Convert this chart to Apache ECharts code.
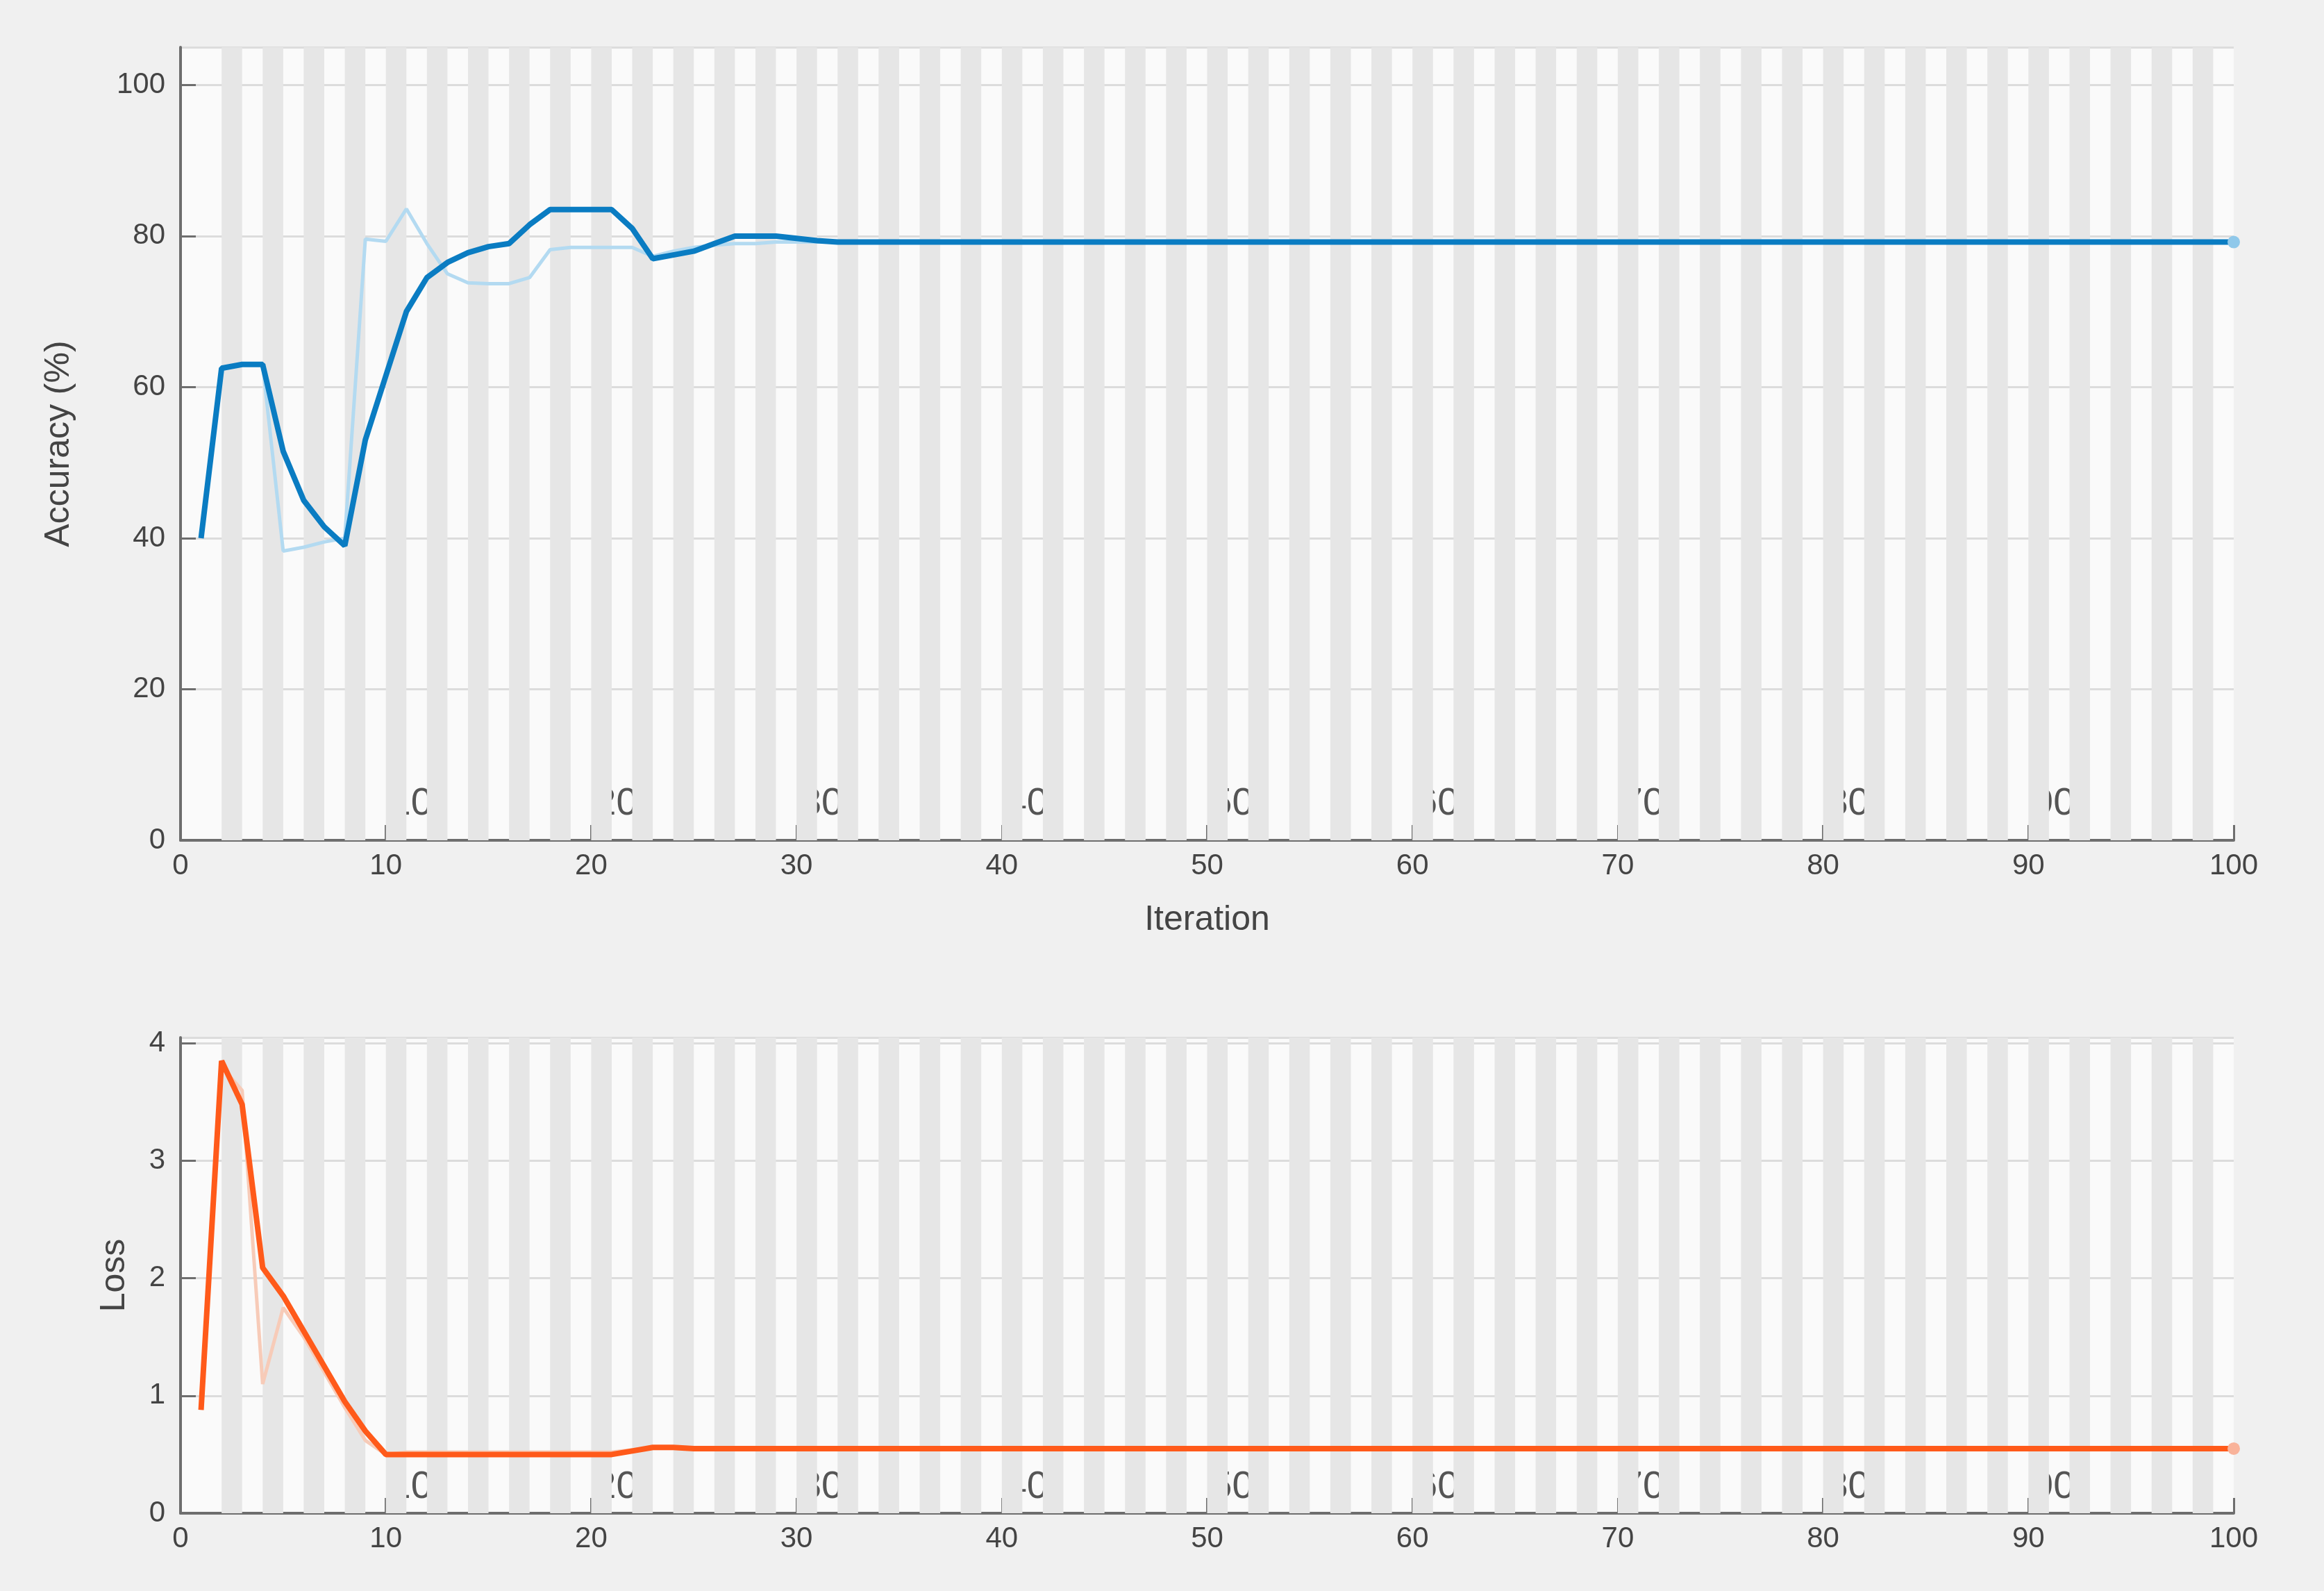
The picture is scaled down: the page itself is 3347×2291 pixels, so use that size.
<!DOCTYPE html>
<html><head><meta charset="utf-8">
<script src="https://cdn.jsdelivr.net/npm/echarts@6/dist/echarts.min.js"></script>
<style>html,body{margin:0;padding:0;background:#f0f0f0}#c{width:3347px;height:2291px}</style>
</head><body><div id="c"></div>
<script>
const iterations = Array.from({length:100},(_,i)=>i+1);
const accSmoothed = [40,62.5,63,63,51.5,45,41.5,39,53,61.5,70,74.5,76.5,77.8,78.6,79,81.5,83.5,83.5,83.5,
83.5,81,77,77.5,78,79,80,80,80,79.7,79.4,79.2,79.2,79.2,79.2,79.2,79.2,79.2,79.2,79.2,
79.2,79.2,79.2,79.2,79.2,79.2,79.2,79.2,79.2,79.2,79.2,79.2,79.2,79.2,79.2,79.2,79.2,79.2,79.2,79.2,
79.2,79.2,79.2,79.2,79.2,79.2,79.2,79.2,79.2,79.2,79.2,79.2,79.2,79.2,79.2,79.2,79.2,79.2,79.2,79.2,
79.2,79.2,79.2,79.2,79.2,79.2,79.2,79.2,79.2,79.2,79.2,79.2,79.2,79.2,79.2,79.2,79.2,79.2,79.2,79.2];
const accRaw = [40,62.5,63,63,38.3,38.8,39.5,40,79.6,79.3,83.6,79,75,73.8,73.7,73.7,74.5,78.2,78.5,78.5,
78.5,78.5,77.3,78,78.5,78.8,79,79,79.2,79.2,79.2,79.2,79.2,79.2,79.2,79.2,79.2,79.2,79.2,79.2,
79.2,79.2,79.2,79.2,79.2,79.2,79.2,79.2,79.2,79.2,79.2,79.2,79.2,79.2,79.2,79.2,79.2,79.2,79.2,79.2,
79.2,79.2,79.2,79.2,79.2,79.2,79.2,79.2,79.2,79.2,79.2,79.2,79.2,79.2,79.2,79.2,79.2,79.2,79.2,79.2,
79.2,79.2,79.2,79.2,79.2,79.2,79.2,79.2,79.2,79.2,79.2,79.2,79.2,79.2,79.2,79.2,79.2,79.2,79.2,79.2];
const lossSmoothed = [0.88,3.85,3.48,2.09,1.85,1.55,1.25,0.95,0.7,0.5,0.5,0.5,0.5,0.5,0.5,0.5,0.5,0.5,0.5,0.5,
0.5,0.53,0.56,0.56,0.55,0.55,0.55,0.55,0.55,0.55,0.55,0.55,0.55,0.55,0.55,0.55,0.55,0.55,0.55,0.55,
0.55,0.55,0.55,0.55,0.55,0.55,0.55,0.55,0.55,0.55,0.55,0.55,0.55,0.55,0.55,0.55,0.55,0.55,0.55,0.55,
0.55,0.55,0.55,0.55,0.55,0.55,0.55,0.55,0.55,0.55,0.55,0.55,0.55,0.55,0.55,0.55,0.55,0.55,0.55,0.55,
0.55,0.55,0.55,0.55,0.55,0.55,0.55,0.55,0.55,0.55,0.55,0.55,0.55,0.55,0.55,0.55,0.55,0.55,0.55,0.55];
const lossRaw = [0.88,3.8,3.6,1.1,1.75,1.5,1.2,0.9,0.62,0.5,0.52,0.52,0.52,0.52,0.52,0.52,0.52,0.52,0.52,0.52,
0.52,0.54,0.56,0.56,0.55,0.55,0.55,0.55,0.55,0.55,0.55,0.55,0.55,0.55,0.55,0.55,0.55,0.55,0.55,0.55,
0.55,0.55,0.55,0.55,0.55,0.55,0.55,0.55,0.55,0.55,0.55,0.55,0.55,0.55,0.55,0.55,0.55,0.55,0.55,0.55,
0.55,0.55,0.55,0.55,0.55,0.55,0.55,0.55,0.55,0.55,0.55,0.55,0.55,0.55,0.55,0.55,0.55,0.55,0.55,0.55,
0.55,0.55,0.55,0.55,0.55,0.55,0.55,0.55,0.55,0.55,0.55,0.55,0.55,0.55,0.55,0.55,0.55,0.55,0.55,0.55];
const innerTickLabels = [10,20,30,40,50,60,70,80,90];

const pair = (xs, ys) => xs.map((x,i)=>[x, ys[i]]);
const stripes = [];
for (let k = 1; k < 50; k++) stripes.push([{xAxis: 2*k}, {xAxis: 2*k+1}]);
const font = 'Liberation Sans, Arial, sans-serif';
const axColor = '#6e6e6e';

function xAxes(gi, showName){
  return [{
    type:'value', gridIndex:gi, min:0, max:100, interval:10,
    axisLine:{show:true, onZero:false, lineStyle:{color:axColor, width:4}},
    axisTick:{show:true, inside:true, length:22, lineStyle:{color:axColor, width:3}},
    axisLabel:{color:'#444', fontSize:42, fontFamily:font, margin:16},
    splitLine:{show:false},
    name: showName ? 'Iteration' : '', nameLocation:'middle', nameGap:90,
    nameTextStyle:{color:'#444', fontSize:50, fontFamily:font}
  },{
    type:'value', gridIndex:gi, min:0, max:100, interval:10, position:'bottom',
    offset: gi===0 ? -80 : -65,
    axisLine:{show:false}, axisTick:{show:false}, splitLine:{show:false},
    axisLabel:{color:'#555', fontSize:56, fontFamily:font, margin:0, hideOverlap:false,
      showMinLabel:false, showMaxLabel:false, padding:[0,0,0,72],
      formatter: v => innerTickLabels.includes(v) ? String(v) : ''}
  }];
}
function yAxis(gi, max, interval, name, gap){
  return {
    type:'value', gridIndex:gi, min:0, max:max, interval:interval,
    axisLine:{show:true, lineStyle:{color:axColor, width:4}},
    axisTick:{show:true, inside:true, length:22, lineStyle:{color:axColor, width:3}},
    axisLabel:{color:'#444', fontSize:42, fontFamily:font, margin:22, showMaxLabel:false,
      formatter: v => (v > (gi===0?100:4)) ? '' : String(v)},
    splitLine:{show:true, lineStyle:{color:'#dcdcdc', width:3}},
    name:name, nameLocation:'middle', nameGap:gap, nameRotate:90,
    nameTextStyle:{color:'#444', fontSize:50, fontFamily:font}
  };
}
const chart = echarts.init(document.getElementById('c'));
chart.setOption({
  backgroundColor:'#f0f0f0',
  animation:false,
  grid:[
    {left:260, right:130, top:68, height:1142, backgroundColor:'#fafafa', show:true, borderWidth:0},
    {left:260, right:130, top:1494, height:685, backgroundColor:'#fafafa', show:true, borderWidth:0}
  ],
  xAxis:[...xAxes(0,true), ...xAxes(1,false)],
  yAxis:[yAxis(0,105,20,'Accuracy (%)',150), yAxis(1,4.05,1,'Loss',70)],
  series:[
    {type:'line', xAxisIndex:0, yAxisIndex:0, data:pair(iterations,accRaw), symbol:'none', z:2,
     lineStyle:{color:'#b3daf1', width:5},
     markArea:{silent:true, itemStyle:{color:'#e6e6e6'}, data:stripes}},
    {type:'line', xAxisIndex:0, yAxisIndex:0, data:pair(iterations,accSmoothed), z:3,
     showSymbol:true, symbolSize:(v,p)=>p.dataIndex===99?18:0, symbol:'circle',
     itemStyle:{color:'#8fc8ea'},
     lineStyle:{color:'#0a7cc2', width:8}},
    {type:'line', xAxisIndex:2, yAxisIndex:1, data:pair(iterations,lossRaw), symbol:'none', z:2,
     lineStyle:{color:'#f7cbb8', width:5},
     markArea:{silent:true, itemStyle:{color:'#e6e6e6'}, data:stripes}},
    {type:'line', xAxisIndex:2, yAxisIndex:1, data:pair(iterations,lossSmoothed), z:3,
     showSymbol:true, symbolSize:(v,p)=>p.dataIndex===99?18:0, symbol:'circle',
     itemStyle:{color:'#f9b39a'},
     lineStyle:{color:'#ff5a1a', width:8}}
  ]
});
</script></body></html>
